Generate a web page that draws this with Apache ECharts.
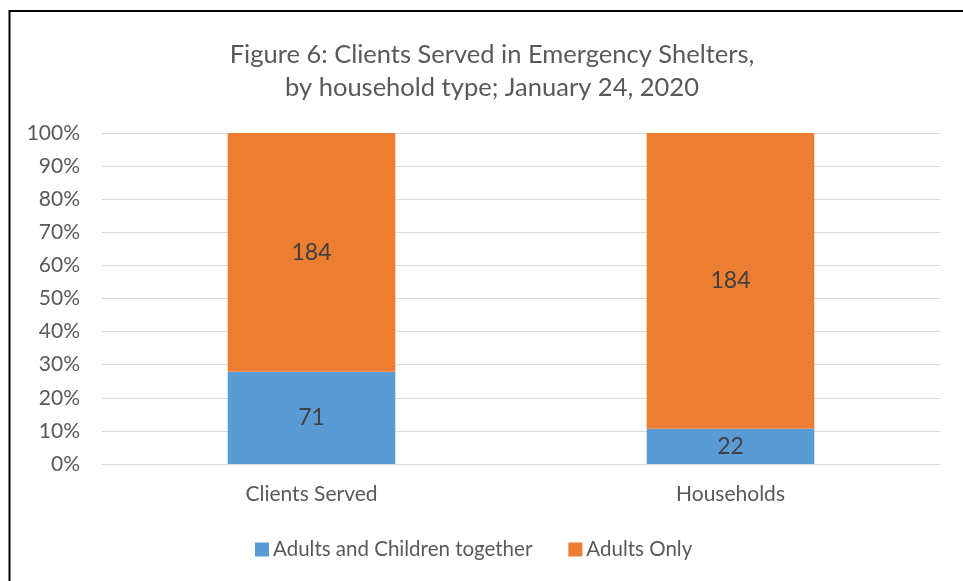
<!DOCTYPE html>
<html>
<head>
<meta charset="utf-8">
<style>
  html, body { margin: 0; padding: 0; background: #fff; }
  #chart { width: 963px; height: 581px; }
</style>
<script src="https://cdn.jsdelivr.net/npm/echarts@6/dist/echarts.min.js"></script>
</head>
<body>
<div id="chart"></div>
<script>
// Household categories and client counts
const categories = ['Clients Served', 'Households'];
const adultsAndChildren = [71, 22];
const adultsOnly = [184, 184];
const yTickLabels = ['0%', '10%', '20%', '30%', '40%', '50%', '60%', '70%', '80%', '90%', '100%'];

// Shares of each column total, in percent (100% stacked columns)
const totals = categories.map((_, i) => adultsAndChildren[i] + adultsOnly[i]);
const pctAC = adultsAndChildren.map((v, i) => v / totals[i] * 100);
const pctAO = adultsOnly.map((v, i) => v / totals[i] * 100);

const FONT = 'Lato, "Open Sans", sans-serif';
const chart = echarts.init(document.getElementById('chart'), null, { renderer: 'canvas' });

chart.setOption({
  backgroundColor: '#ffffff',
  animation: false,
  title: {
    text: 'Figure 6: Clients Served in Emergency Shelters,\nby household type; January 24, 2020',
    left: 487,
    textAlign: 'center',
    top: 33,
    textStyle: { fontFamily: FONT, fontSize: 25.5, fontWeight: 'normal', color: '#595959', lineHeight: 33 }
  },
  legend: {
    bottom: 16,
    left: 250,
    itemWidth: 14,
    itemHeight: 14,
    itemGap: 36,
    icon: 'rect',
    textStyle: { fontFamily: FONT, fontSize: 20.5, color: '#595959', padding: [0, 0, 0, -1] },
    data: ['Adults and Children together', 'Adults Only']
  },
  grid: { left: 102, right: 23, top: 133, bottom: 117, containLabel: false },
  xAxis: {
    type: 'category',
    data: categories,
    axisLine: { show: true, lineStyle: { color: '#D9D9D9', width: 1 } },
    axisTick: { show: false },
    axisLabel: { fontFamily: FONT, fontSize: 21, color: '#595959', margin: 20 }
  },
  yAxis: {
    type: 'value',
    min: 0,
    max: 100,
    interval: 10,
    axisLine: { show: false },
    axisTick: { show: false },
    splitLine: { lineStyle: { color: '#D9D9D9', width: 1 } },
    axisLabel: {
      fontFamily: FONT, fontSize: 21, color: '#595959', margin: 22,
      formatter: v => yTickLabels[Math.round(v / 10)]
    }
  },
  series: [
    {
      name: 'Adults and Children together',
      type: 'bar',
      stack: 'total',
      barWidth: '40%',
      data: pctAC,
      itemStyle: { color: '#5B9BD5' },
      label: {
        show: true, position: 'inside',
        fontFamily: FONT, fontSize: 23, color: '#404040',
        formatter: p => String(adultsAndChildren[p.dataIndex])
      }
    },
    {
      name: 'Adults Only',
      type: 'bar',
      stack: 'total',
      barWidth: '40%',
      data: pctAO,
      itemStyle: { color: '#ED7D31' },
      label: {
        show: true, position: 'inside',
        fontFamily: FONT, fontSize: 23, color: '#404040',
        formatter: p => String(adultsOnly[p.dataIndex])
      }
    }
  ],
  graphic: [
    { type: 'line', shape: { x1: 9.5, y1: 10, x2: 9.5, y2: 581 }, style: { stroke: '#000', lineWidth: 2 } },
    { type: 'line', shape: { x1: 9, y1: 11, x2: 963, y2: 11 }, style: { stroke: '#000', lineWidth: 2 } }
  ]
});
</script>
</body>
</html>
